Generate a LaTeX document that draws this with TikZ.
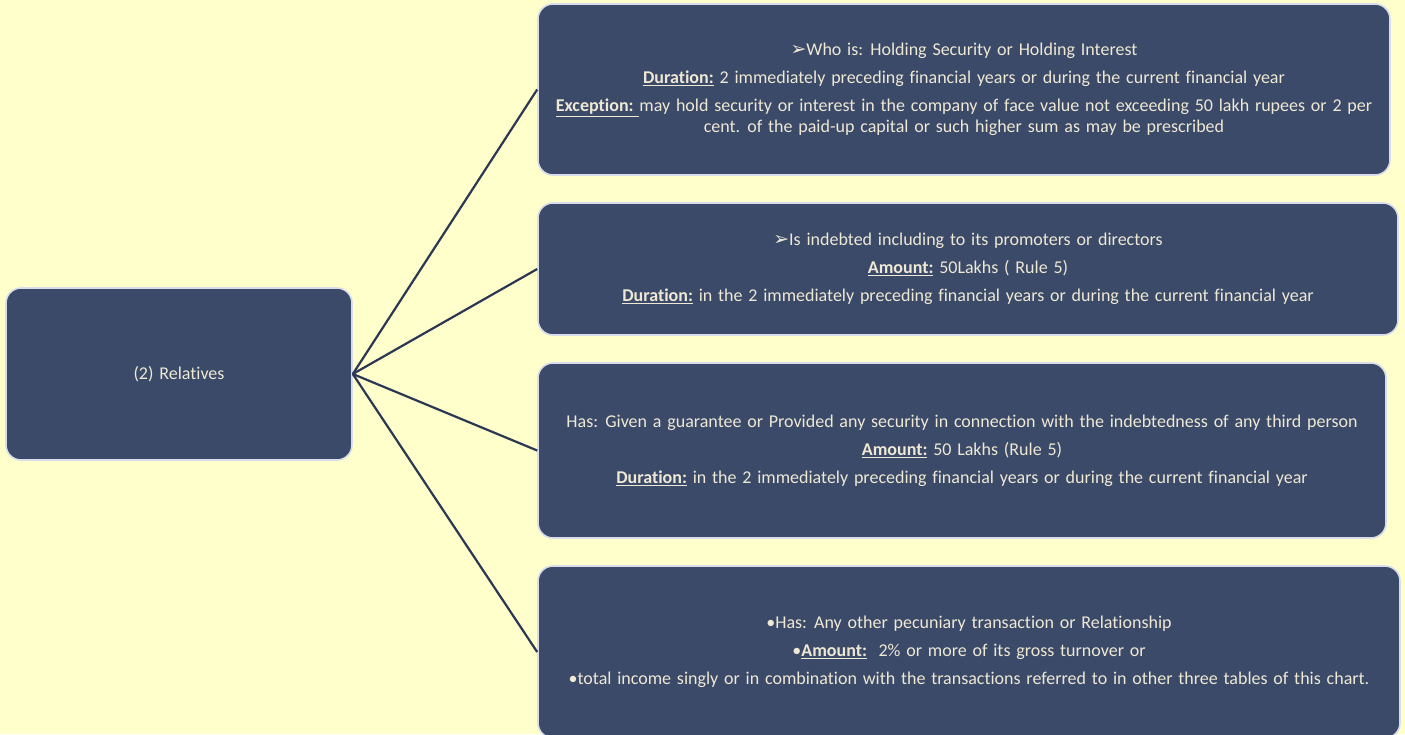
\documentclass[tikz,border=0pt]{standalone}
\usepackage{fontspec}
\setmainfont[Ligatures=NoCommon]{Carlito}
\newfontfamily\symfont{DejaVu Sans}
\definecolor{bgc}{HTML}{FFFFCC}
\definecolor{boxc}{HTML}{3B4A68}
\definecolor{edgec}{HTML}{D9DCEB}
\definecolor{txtc}{HTML}{EEE8D4}
\definecolor{linec}{HTML}{2C3753}
\newcommand{\arr}{{\symfont\fontsize{19}{19}\selectfont ➢}}
\newcommand{\lab}[1]{\underline{\textbf{#1}}}
\newcommand{\cardfont}{\fontsize{18}{28}\selectfont\spaceskip=5.8pt plus 1pt minus 1pt\relax}
\tikzset{
  x=1pt, y=-1pt,
  card/.style={draw=edgec, line width=1.6pt, fill=boxc, rounded corners=15pt,
    text=txtc, align=center, inner sep=0pt, font=\cardfont},
  conn/.style={draw=linec, line width=2.2pt}
}
\begin{document}
\begin{tikzpicture}
\useasboundingbox (0,0) rectangle (1405,734);
\fill[bgc] (0,0) rectangle (1405,734);
\node[card, minimum width=346pt, minimum height=172pt] (root) at (179,374) {(2) Relatives};
\node[card, minimum width=852pt, minimum height=171pt] (b1) at (964,89.5)
  {\raisebox{0pt}[0pt][0pt]{}\arr Who is: Holding Security or Holding Interest\\
   \lab{Duration:} 2 immediately preceding financial years or during the current financial year\\
   \lab{Exception:\ }may hold security or interest in the company of face value not exceeding 50 lakh rupees or 2 per\\[-7pt]
   cent. of the paid-up capital or such higher sum as may be prescribed};
\node[card, minimum width=860pt, minimum height=132pt] (b2) at (968,269)
  {\arr Is indebted including to its promoters or directors\\
   \lab{Amount:} 50Lakhs ( Rule 5)\\
   \lab{Duration:} in the 2 immediately preceding financial years or during the current financial year};
\node[card, minimum width=848pt, minimum height=175pt] (b3) at (962,450.5)
  {Has: Given a guarantee or Provided any security in connection with the indebtedness of any third person\\
   \lab{Amount:} 50 Lakhs (Rule 5)\\
   \lab{Duration:} in the 2 immediately preceding financial years or during the current financial year};
\node[card, minimum width=862pt, minimum height=172pt] (b4) at (969,652)
  {•Has: Any other pecuniary transaction or Relationship\\
   •\lab{Amount:}\ \ 2\% or more of its gross turnover or\\
   •total income singly or in combination with the transactions referred to in other three tables of this chart.};
\foreach \b in {b1,b2,b3,b4} \draw[conn] (root.east) -- (\b.west);
\end{tikzpicture}
\end{document}
